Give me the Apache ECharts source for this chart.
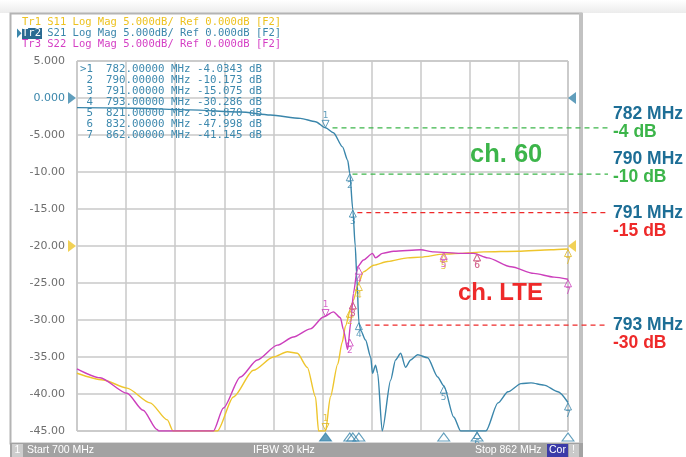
<!DOCTYPE html>
<html><head><meta charset="utf-8">
<script src="https://cdn.jsdelivr.net/npm/echarts@6/dist/echarts.min.js"></script>
<style>html,body{margin:0;padding:0;background:#fff}#c{width:686px;height:457px}</style>
</head><body><div id="c"></div>
<script>
// ---------- data ----------
const F_START = 700, F_STOP = 862, F_DIV = 16.2;
const yTickValues = [5, 0, -5, -10, -15, -20, -25, -30, -35, -40, -45];
const yTickLabels = ['5.000', '0.000', '-5.000', '-10.00', '-15.00', '-20.00', '-25.00', '-30.00', '-35.00', '-40.00', '-45.00'];

const s21Freq = [700, 716, 737.4, 753.9, 763.8, 773.7, 778.7, 782, 784.6, 787.6, 789.3, 790, 791, 791.8, 792.3, 793, 793.6, 795.2, 796.9, 797.5, 798.5, 799.2, 800.7, 803.5, 805.1, 806.8, 808.4, 810.1, 812.4, 815.7, 819, 821, 824.3, 826.6, 834.9, 838.9, 842.2, 846.5, 849.8, 854.1, 858.7, 862];
const s21Db = [-1.3, -1.35, -1.6, -1.9, -2.3, -2.75, -3.2, -4.03, -4.7, -6.6, -8.4, -10.17, -15.08, -20, -24, -30.29, -31.4, -32.7, -35, -37.2, -36.1, -37.2, -45, -38.1, -35.4, -34.5, -36.4, -35.4, -34.7, -35.1, -37.7, -38.87, -43.1, -45, -45, -41.2, -39.7, -38.6, -38.5, -38.8, -39.7, -41.15];

const s22Freq = [700, 707.6, 716.5, 721.8, 726.4, 727, 745, 748.3, 753.9, 759.5, 766.1, 771.4, 777, 781.3, 784.6, 786.9, 787.9, 789.3, 790.3, 791.2, 792.6, 794.5, 797.5, 798.5, 800.8, 804.5, 813.4, 817.7, 826.6, 830.9, 835.5, 843.2, 850.7, 857.4, 862];
const s22Db = [-36.6, -37.8, -39.9, -42.2, -44.8, -45, -45, -41.9, -37.7, -35.4, -33.4, -32.3, -31.2, -29.6, -28.9, -29.7, -31.3, -34.0, -30.4, -26.4, -22.8, -21.9, -21.0, -21.6, -21.0, -20.7, -20.5, -20.8, -21.0, -21.0, -21.6, -22.8, -23.7, -24.2, -24.5];

const s11Freq = [700, 708.6, 716.5, 724.1, 729.8, 731.7, 746.3, 751.6, 758.2, 764.8, 769.4, 772.7, 776, 778.7, 779.7, 782, 783.6, 786, 787.5, 788.6, 790.3, 791.2, 792.9, 794.5, 797.9, 802.5, 809.1, 813.4, 821, 826.6, 834.2, 845.5, 856.4, 862];
const s11Db = [-37.2, -38.1, -39.2, -41.2, -43.5, -45, -45, -40.4, -36.8, -35.0, -34.3, -34.5, -36.4, -40.4, -45, -45, -40.4, -36.0, -33.0, -30.8, -28.5, -27.3, -25.0, -23.5, -22.6, -22.1, -21.6, -21.5, -21.1, -21.0, -20.8, -20.7, -20.5, -20.4];

const markerFreq = [782, 790, 791, 793, 821, 832, 862];
const s21MarkerDb = [-4.0343, -10.173, -15.075, -30.286, -38.870, -47.998, -41.145];
const s11MarkerDb = [-45, -28.6, -27.5, -25.0, -21.1, -21.0, -20.4];
const s22MarkerDb = [-29.6, -32.5, -27.5, -22.8, -20.8, -21.0, -24.5];

const annoStartFreq = [784.3, 790.9, 792.5, 795.2];
const annoDb = [-4.03, -10.3, -15.5, -30.7];
const annoEndFreq = 875.2;

const headerLines = ['Tr1 S11 Log Mag 5.000dB/ Ref 0.000dB [F2]', 'Tr2 S21 Log Mag 5.000dB/ Ref 0.000dB [F2]', 'Tr3 S22 Log Mag 5.000dB/ Ref 0.000dB [F2]'];

// ---------- styles ----------
const C11 = '#eec52c', C21 = '#3a86ab', C22 = '#cc3fbc';
const GREEN = '#3cb54a', RED = '#ee2a2a', BLUE_T = '#1d6e96';
const MONO = '"DejaVu Sans Mono", monospace';
const SANS = '"Liberation Sans", Arial, sans-serif';

const toXY = (fs, vs) => fs.map((f, i) => [f - F_START, vs[i]]);
const clampY = v => Math.max(v, -45);

function markerSeries(vals, color, name) {
  return {
    type: 'scatter', name, z: 5, clip: false, silent: true,
    data: markerFreq.map((f, i) => {
      const first = i === 0;
      return {
        value: [f - F_START, clampY(vals[i])],
        symbol: 'triangle',
        symbolSize: [7, 7],
        symbolRotate: first ? 180 : 0,
        symbolOffset: first ? [0, -4] : [0, 4],
        label: { show: true, formatter: String(i + 1), position: first ? 'top' : 'bottom', distance: 0,
          color: color, fontSize: 9, fontFamily: '"DejaVu Sans", sans-serif' }
      };
    }),
    itemStyle: { color: 'rgba(255,255,255,0)', borderColor: color, borderWidth: 1 }
  };
}

const tableText = markerFreq.map((f, i) =>
  (i === 0 ? '>' : ' ') + (i + 1) + '  ' + f.toFixed(5) + ' MHz ' + s21MarkerDb[i].toPrecision(5) + ' dB').join('\n');

const series = [
  { type: 'line', name: 'S11', data: toXY(s11Freq, s11Db), showSymbol: false, smooth: 0.25, smoothMonotone: 'x',
    lineStyle: { color: C11, width: 1.4 }, z: 3, silent: true },
  { type: 'line', name: 'S22', data: toXY(s22Freq, s22Db), showSymbol: false, smooth: 0.25, smoothMonotone: 'x',
    lineStyle: { color: C22, width: 1.4 }, z: 3, silent: true },
  { type: 'line', name: 'S21', data: toXY(s21Freq, s21Db), showSymbol: false, smooth: 0.25, smoothMonotone: 'x',
    lineStyle: { color: C21, width: 1.4 }, z: 4, silent: true },
  markerSeries(s11MarkerDb, '#e0b820', 'm11'),
  markerSeries(s22MarkerDb, C22, 'm22'),
  markerSeries(s21MarkerDb, C21, 'm21'),
  // bottom marker indicators
  { type: 'scatter', clip: false, silent: true, z: 6,
    data: markerFreq.map((f, i) => ({ value: [f - F_START, -45],
      itemStyle: i === 0 ? { color: C21, borderColor: C21 } : { color: 'rgba(255,255,255,0)', borderColor: C21, borderWidth: 1 } })),
    symbol: 'triangle', symbolSize: [12, 8], symbolOffset: [0, 6] },
  // side reference indicators
  { type: 'scatter', clip: false, silent: true, z: 6, symbol: 'triangle', symbolSize: [12, 8],
    data: [
      { value: [0, 0], symbolRotate: -90, symbolOffset: [-5, 0], itemStyle: { color: C21 } },
      { value: [F_STOP - F_START, 0], symbolRotate: 90, symbolOffset: [4, 0], itemStyle: { color: C21 } },
      { value: [0, -20], symbolRotate: -90, symbolOffset: [-5, 0], itemStyle: { color: C11 } },
      { value: [F_STOP - F_START, -20], symbolRotate: 90, symbolOffset: [4, 0], itemStyle: { color: C11 } }
    ] }
];
// annotation dashed lines live on a second (invisible) grid that extends past the plot with the same scale
annoStartFreq.forEach((f, i) => {
  series.push({ type: 'line', xAxisIndex: 1, yAxisIndex: 1, clip: false, silent: true, z: 2, showSymbol: false, symbol: 'none',
    data: [[f - F_START, annoDb[i]], [annoEndFreq - F_START, annoDb[i]]],
    lineStyle: { color: i < 2 ? GREEN : RED, width: 1.2, type: [5, 4] } });
});

const T = (text, x, y, opts, z) => ({ type: 'text', x, y, z: z || 100, silent: true,
  style: Object.assign({ text, verticalAlign: 'middle' }, opts) });

const graphic = [
  { type: 'rect', z: -10, shape: { x: 0, y: 0, width: 686, height: 13 },
    style: { fill: new echarts.graphic.LinearGradient(0, 0, 0, 1, [{ offset: 0, color: '#ffffff' }, { offset: 1, color: '#ececec' }]) } },
  { type: 'rect', z: -9, shape: { x: 10.5, y: 13.5, width: 571, height: 430 }, style: { fill: '#fff', stroke: '#b4b4b4', lineWidth: 2 } },
  { type: 'rect', z: -8, shape: { x: 579, y: 13, width: 4, height: 431 }, style: { fill: '#c2c2c2' } },
  { type: 'rect', z: 50, shape: { x: 10, y: 443, width: 573, height: 14 }, style: { fill: '#a2a2a2' } },
  { type: 'rect', z: 51, shape: { x: 12, y: 444, width: 11, height: 13 }, style: { fill: '#cdcdcd' } },
  T('1', 14.5, 450.5, { fill: '#fff', font: '10.5px ' + SANS }),
  T('Start 700 MHz', 27, 450.5, { fill: '#fff', font: '10.5px ' + SANS }),
  T('IFBW 30 kHz', 253, 450.5, { fill: '#fff', font: '10.5px ' + SANS }),
  T('Stop 862 MHz', 475, 450.5, { fill: '#fff', font: '10.5px ' + SANS }),
  { type: 'rect', z: 51, shape: { x: 547, y: 444, width: 21, height: 13 }, style: { fill: '#3b3ba8' } },
  T('Cor', 549, 450.5, { fill: '#fff', font: '10.5px ' + SANS }),
  { type: 'rect', z: 51, shape: { x: 569, y: 444, width: 10, height: 13 }, style: { fill: '#c9c9c9' } },
  T('!', 572, 450.5, { fill: '#fff', font: '10.5px ' + SANS }),
  // header
  T(headerLines[0], 22, 22.5, { fill: '#edc21f', font: '10.5px ' + MONO }),
  T(headerLines[1], 22, 33.3, { fill: C21, font: '10.5px ' + MONO }),
  { type: 'rect', z: 101, shape: { x: 22, y: 28, width: 20, height: 11 }, style: { fill: '#2a6a92' } },
  T('Tr2', 22, 33.3, { fill: '#fff', font: '10.5px ' + MONO }, 102),
  { type: 'polygon', z: 101, shape: { points: [[17, 28.5], [21.5, 33.3], [17, 38]] }, style: { fill: C21 } },
  T(headerLines[2], 22, 44, { fill: '#d43ec4', font: '10.5px ' + MONO }),
  // marker table
  { type: 'text', x: 80, y: 63.5, z: 100, silent: true,
    style: { text: tableText, fill: '#3d89ae', font: '10.8px ' + MONO, lineHeight: 11, verticalAlign: 'top' } },
  // annotations
  T('782 MHz', 613, 114, { fill: BLUE_T, font: 'bold 17.5px ' + SANS }),
  T('-4 dB', 613, 132, { fill: GREEN, font: 'bold 17.5px ' + SANS }),
  T('790 MHz', 613, 159, { fill: BLUE_T, font: 'bold 17.5px ' + SANS }),
  T('-10 dB', 613, 177, { fill: GREEN, font: 'bold 17.5px ' + SANS }),
  T('791 MHz', 613, 213, { fill: BLUE_T, font: 'bold 17.5px ' + SANS }),
  T('-15 dB', 613, 231, { fill: RED, font: 'bold 17.5px ' + SANS }),
  T('793 MHz', 613, 325, { fill: BLUE_T, font: 'bold 17.5px ' + SANS }),
  T('-30 dB', 613, 343, { fill: RED, font: 'bold 17.5px ' + SANS }),
  T('ch. 60', 470, 155, { fill: GREEN, font: 'bold 25.5px ' + SANS }),
  T('ch. LTE', 458, 293, { fill: RED, font: 'bold 24px ' + SANS })
];

const PLOT_W = 491;
const chart = echarts.init(document.getElementById('c'), null, { renderer: 'canvas' });
chart.setOption({
  animation: false,
  backgroundColor: '#fff',
  grid: [
    { left: 77, top: 61, width: PLOT_W, height: 370, show: true, backgroundColor: '#fff', borderColor: '#a6a6a6', borderWidth: 1 },
    { left: 77, top: 61, width: PLOT_W * (annoEndFreq - F_START) / (F_STOP - F_START), height: 370, show: false }
  ],
  xAxis: [
    { type: 'value', gridIndex: 0, min: 0, max: F_STOP - F_START, interval: F_DIV,
      axisLine: { show: false }, axisTick: { show: false }, axisLabel: { show: false },
      splitLine: { show: true, lineStyle: { color: '#c9c9c9', width: 1.5 } } },
    { type: 'value', gridIndex: 1, min: 0, max: annoEndFreq - F_START, show: false, splitLine: { show: false } }
  ],
  yAxis: [
    { type: 'value', gridIndex: 0, min: -45, max: 5, interval: 5,
      axisLine: { show: false }, axisTick: { show: false },
      axisLabel: { margin: 12, fontFamily: '"DejaVu Sans", sans-serif', fontSize: 11, color: '#6e6e6e',
        formatter: v => { const i = yTickValues.indexOf(v); const s = i >= 0 ? yTickLabels[i] : ''; return v === 0 ? '{r|' + s + '}' : s; },
        rich: { r: { color: '#3a86ab', fontFamily: '"DejaVu Sans", sans-serif', fontSize: 11 } } },
      splitLine: { show: true, lineStyle: { color: '#c9c9c9', width: 1.5 } } },
    { type: 'value', gridIndex: 1, min: -45, max: 5, show: false, splitLine: { show: false } }
  ],
  series,
  graphic
});
</script></body></html>
